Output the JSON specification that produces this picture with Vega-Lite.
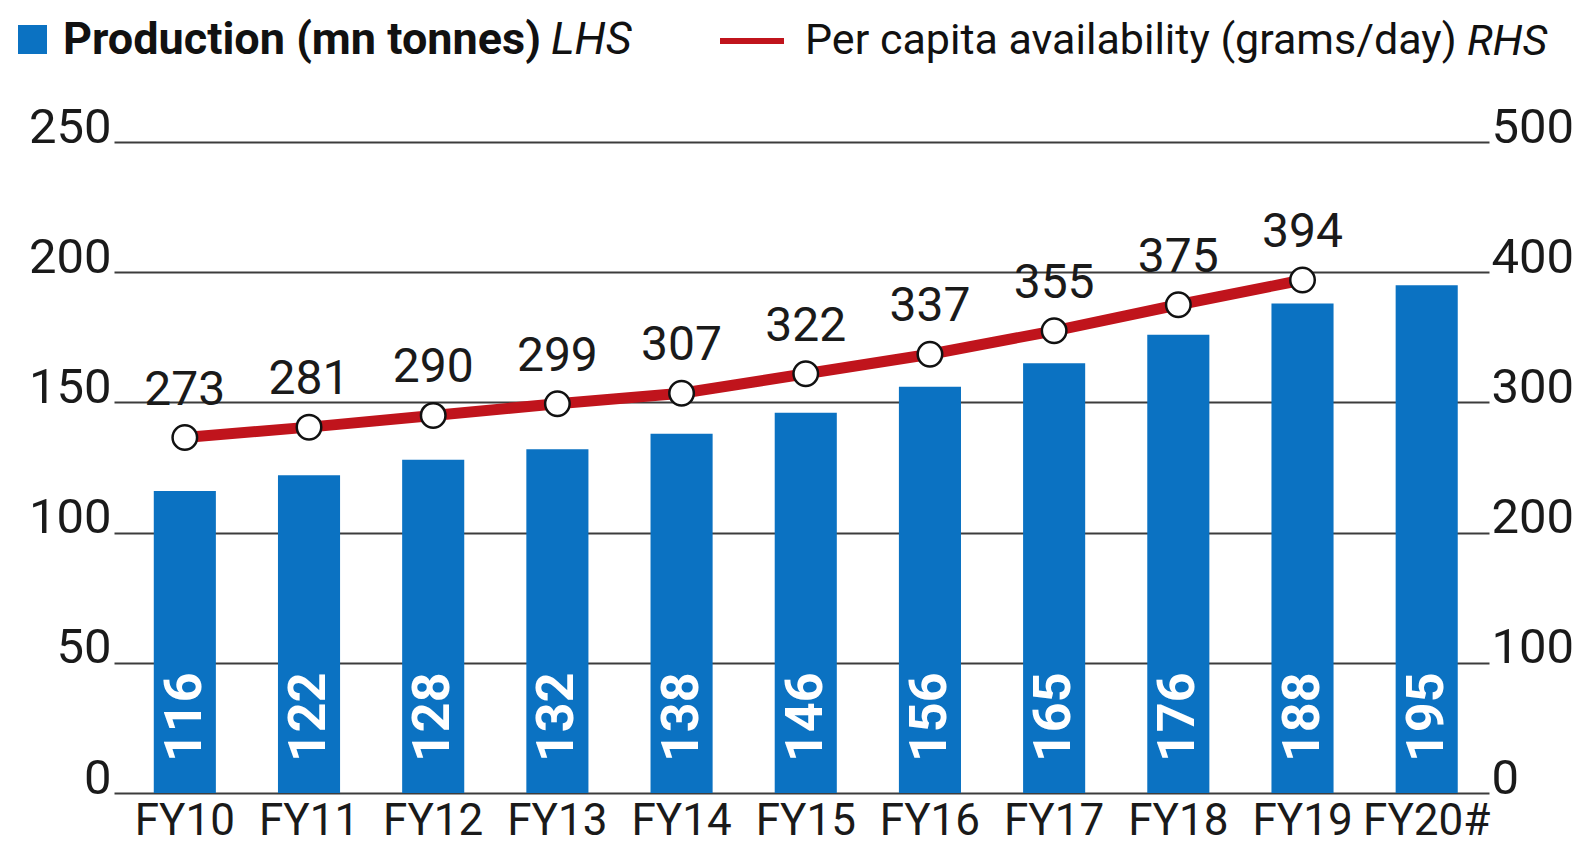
{
  "$schema": "https://vega.github.io/schema/vega-lite/v6.json",
  "width": 1375,
  "height": 651,
  "autosize": {"type": "none"},
  "padding": {"left": 114, "top": 142, "right": 99, "bottom": 56},
  "background": "white",
  "config": {
    "font": "Roboto",
    "view": {"stroke": null},
    "axis": {"labelFont": "Roboto", "labelColor": "#1a1a1a"},
    "legend": {"labelFont": "Roboto", "titleFont": "Roboto"}
  },
  "data": {
    "values": [
      {"year": "FY10", "production": 116, "percapita": 273},
      {"year": "FY11", "production": 122, "percapita": 281},
      {"year": "FY12", "production": 128, "percapita": 290},
      {"year": "FY13", "production": 132, "percapita": 299},
      {"year": "FY14", "production": 138, "percapita": 307},
      {"year": "FY15", "production": 146, "percapita": 322},
      {"year": "FY16", "production": 156, "percapita": 337},
      {"year": "FY17", "production": 165, "percapita": 355},
      {"year": "FY18", "production": 176, "percapita": 375},
      {"year": "FY19", "production": 188, "percapita": 394},
      {"year": "FY20#", "production": 195, "percapita": null}
    ]
  },
  "encoding": {
    "x": {
      "field": "year",
      "type": "nominal",
      "sort": null,
      "scale": {"paddingInner": 0.5, "paddingOuter": 0.286, "align": 0.56},
      "axis": {
        "title": null,
        "labelAngle": 0,
        "labelFontSize": 44,
        "labelPadding": 6,
        "ticks": false,
        "domain": false,
        "grid": false
      }
    }
  },
  "layer": [
    {
      "layer": [
        {
          "mark": {"type": "bar"},
          "encoding": {
            "y": {
              "field": "production",
              "type": "quantitative",
              "scale": {"domain": [0, 250], "nice": false},
              "axis": {
                "title": null,
                "orient": "left",
                "values": [0, 50, 100, 150, 200, 250],
                "labelFontSize": 49,
                "labelBaseline": "alphabetic",
                "labelPadding": 3,
                "ticks": false,
                "domain": false,
                "grid": true,
                "gridColor": "#3c3c3c",
                "gridWidth": 2,
                "gridOpacity": 1
              }
            },
            "fill": {
              "datum": "Production (mn tonnes)",
              "type": "nominal",
              "scale": {"range": ["#0b72c2"]},
              "legend": {
                "orient": "none",
                "legendX": -104,
                "legendY": -125,
                "padding": 0,
                "symbolType": "square",
                "symbolSize": 841,
                "symbolStrokeWidth": 0,
                "labelFontSize": 45,
                "labelFontWeight": "bold",
                "labelColor": "#111111",
                "labelOffset": 8,
                "labelLimit": 1000,
                "title": "LHS",
                "titleOrient": "right",
                "titleFontSize": 45,
                "titleFontStyle": "italic",
                "titleFontWeight": "normal",
                "titleColor": "#111111",
                "titlePadding": 10
              }
            }
          }
        },
        {
          "mark": {
            "type": "text",
            "angle": 270,
            "align": "left",
            "baseline": "middle",
            "dx": 31,
            "color": "white",
            "fontSize": 52,
            "fontWeight": "bold"
          },
          "encoding": {
            "y": {"datum": 0, "type": "quantitative"},
            "text": {"field": "production", "type": "quantitative"}
          }
        }
      ]
    },
    {
      "layer": [
        {
          "mark": {"type": "line", "strokeWidth": 11},
          "encoding": {
            "y": {
              "field": "percapita",
              "type": "quantitative",
              "scale": {"domain": [0, 500], "nice": false},
              "axis": {
                "title": null,
                "orient": "right",
                "values": [0, 100, 200, 300, 400, 500],
                "labelFontSize": 49,
                "labelBaseline": "alphabetic",
                "labelPadding": 2,
                "ticks": false,
                "domain": false,
                "grid": false
              }
            },
            "stroke": {
              "datum": "Per capita availability (grams/day)",
              "type": "nominal",
              "scale": {"range": ["#c0141c"]},
              "legend": {
                "orient": "none",
                "legendX": 603,
                "legendY": -136,
                "padding": 0,
                "symbolType": "stroke",
                "symbolSize": 4096,
                "symbolStrokeWidth": 6,
                "labelFontSize": 43,
                "labelFontWeight": "normal",
                "labelColor": "#111111",
                "labelOffset": 18,
                "labelLimit": 1000,
                "title": "RHS",
                "titleOrient": "right",
                "titleFontSize": 43,
                "titleFontStyle": "italic",
                "titleFontWeight": "normal",
                "titleColor": "#111111",
                "titlePadding": 10,
                "encode": {"title": {"update": {"dy": {"value": 7}}}}
              }
            }
          }
        },
        {
          "mark": {"type": "point", "shape": "circle", "filled": true, "fill": "white", "stroke": "#111111", "strokeWidth": 2.5, "size": 600, "opacity": 1},
          "encoding": {
            "y": {"field": "percapita", "type": "quantitative"}
          }
        },
        {
          "mark": {"type": "text", "baseline": "alphabetic", "align": "center", "dy": -33, "fontSize": 48, "color": "#1a1a1a"},
          "encoding": {
            "y": {"field": "percapita", "type": "quantitative"},
            "text": {"field": "percapita", "type": "quantitative"}
          }
        }
      ]
    }
  ],
  "resolve": {"scale": {"y": "independent"}}
}
